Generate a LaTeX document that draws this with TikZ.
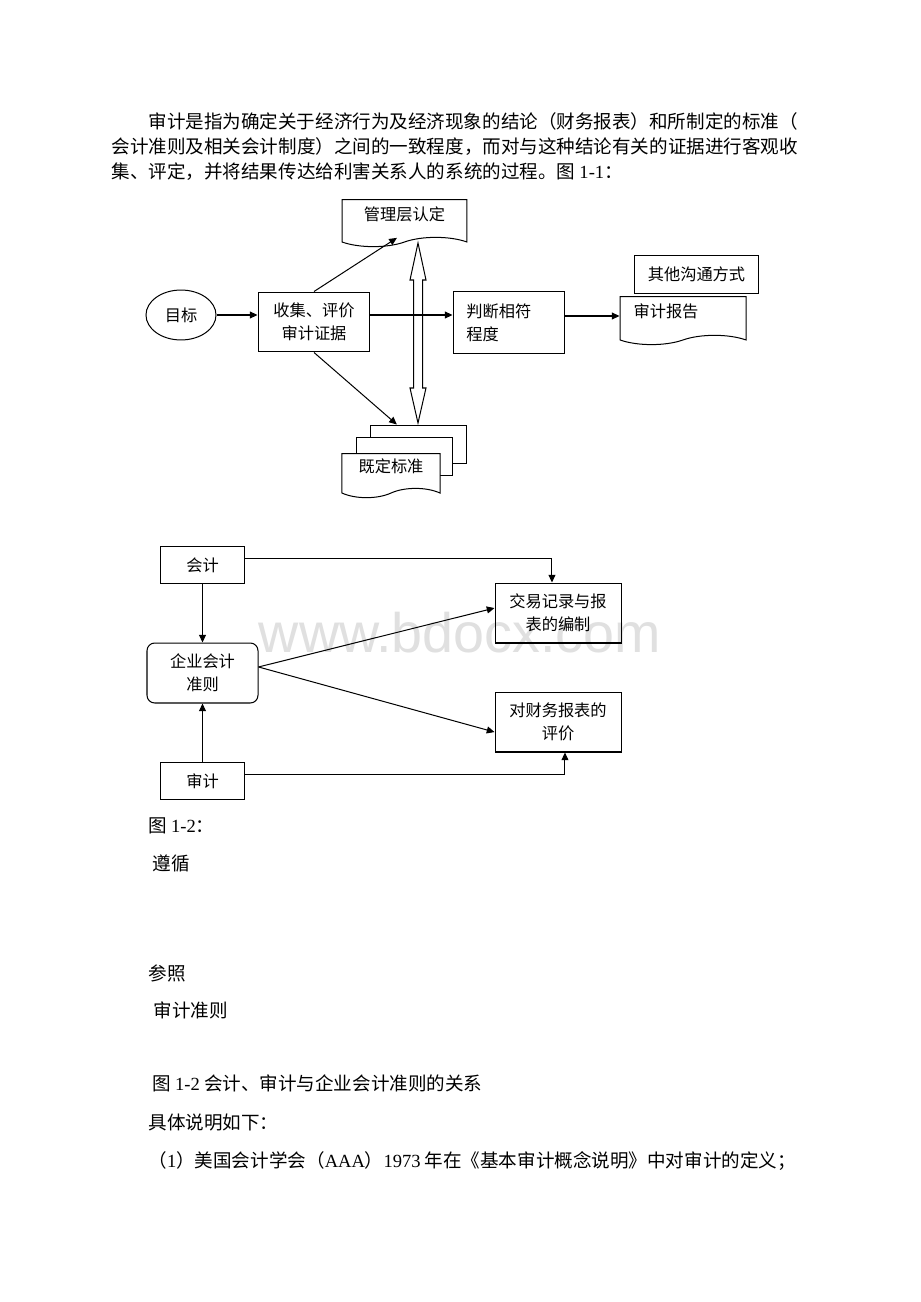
\documentclass[tikz,border=0pt]{standalone}
\usepackage{fontspec}
\setmainfont{Noto Sans CJK SC}
\newfontfamily\latinfont{Liberation Serif}
\newfontfamily\markfont{Liberation Sans}
\usepackage{tikz}
\usetikzlibrary{arrows.meta,shapes.geometric,shapes.symbols}

\begin{document}
\begin{tikzpicture}[x=0.6468pt,y=-0.6468pt,
    line width=0.65pt, >={Triangle[length=5pt,width=4.5pt]},
    para/.style={anchor=base west, inner sep=0pt, font=\fontsize{12}{14}\selectfont},
    box/.style={draw, align=center, inner sep=1pt, font=\fontsize{10.5}{15}\selectfont},
    docbox/.style={box, fill=white, tape, tape bend top=none, tape bend bottom=in and out,
        tape bend height=6pt, text height=8pt, text depth=6pt}]

            \fill[white] (0,0) rectangle (920,1302);
            \useasboundingbox (0,0) rectangle (920,1302);

            \node[para] (p1) at (148,129) {审计是指为确定关于经济行为及经济现象的结论（财务报表）和所制定的标准（};
            \node[para] (p2) at (111,154) {会计准则及相关会计制度）之间的一致程度，而对与这种结论有关的证据进行客观收};
            \node[para] (p3) at (111,179) {集、评定，并将结果传达给利害关系人的系统的过程。图 {\latinfont 1-1}：};

            \node[box, ellipse, minimum width=45.3pt, minimum height=32.3pt] (aim) at (181,315) {目标};
            \node[box, minimum width=72.4pt, minimum height=38.8pt] (collect) at (314,322) {收集、评价\\审计证据};
            \node[box, minimum width=72.4pt, minimum height=39.5pt, text width=55pt, align=left, inner xsep=8.7pt] (judge) at (509,322.5) {判断相符\\程度};
            \node[docbox, minimum width=80.8pt, minimum height=30.4pt] (mgmt) at (404.5,218.5) {管理层认定};
            \node[box, fill=white, minimum width=80.8pt, minimum height=25.2pt] (other) at (696.5,274.5) {其他沟通方式};
            \node[docbox, minimum width=81.5pt, minimum height=31pt, text width=64pt, align=left, inner xsep=8.75pt] (report) at (683,316) {审计报告};

            \node[box, fill=white, minimum width=62.7pt, minimum height=25.2pt] (stdback) at (418.5,444.5) {};
            \node[box, fill=white, minimum width=62.7pt, minimum height=25.2pt] (stdmid) at (404.5,456.5) {};
            \node[docbox, minimum width=63.4pt, minimum height=28.5pt] (std) at (391,471) {既定标准};

            \coordinate (dtop) at (418,243);
            \coordinate (dbot) at (418,423);
            \draw[fill=white] (dtop) -- ++(8,37) -- ++(-3.5,0) -- ++(0,108) -- ++(3.5,0) -- (dbot)
                -- ++(-8,-35) -- ++(3.5,0) -- ++(0,-108) -- ++(-3.5,0) -- cycle;

            \draw[->] (aim.east) -- (collect.west |- aim.east);
            \draw[->] (collect.east |- aim.east) -- (judge.west |- aim.east);
            \draw[->] (judge.east |- report.west) -- (report.west);
            \draw[->] (collect.north) -- ([xshift=-4.9pt]mgmt.south);
            \draw[->] (collect.south) -- ([xshift=-14pt]stdback.north);

            \node[font=\markfont\fontsize{36}{40}\selectfont, text=black!12, anchor=base, inner sep=0pt] (mark) at (460,652) {www.bdocx.com};

            \node[box, minimum width=53.7pt, minimum height=23.3pt] (acct) at (202.5,565) {会计};
            \node[box, rounded corners=5pt, minimum width=71.8pt, minimum height=38.8pt] (gaap) at (202.5,673) {企业会计\\准则};
            \node[box, minimum width=53.7pt, minimum height=23.3pt] (audit) at (202.5,781) {审计};
            \node[box, minimum width=81.5pt, minimum height=38.8pt] (record) at (558,613) {交易记录与报\\表的编制};
            \node[box, minimum width=81.5pt, minimum height=38.8pt] (evalu) at (558,722) {对财务报表的\\评价};

            \draw[->] ([yshift=3.9pt]acct.east) -| ([xshift=-3.9pt]record.north);
            \draw[->] ([yshift=3.9pt]audit.east) -| ([xshift=4.5pt]evalu.south);
            \draw[->] (acct.south) -- (gaap.north);
            \draw[->] (audit.north) -- (gaap.south);
            \draw[->] ([yshift=3.9pt]gaap.east) -- ([yshift=3.2pt]record.west);
            \draw[->] ([yshift=3.9pt]gaap.east) -- ([yshift=-6.5pt]evalu.west);

            \node[para] (f2) at (148,832) {图 {\latinfont 1-2}：};
            \node[para] (follow) at (152,870) {遵循};
            \node[para] (refer) at (148,980) {参照};
            \node[para] (stds) at (153,1017) {审计准则};
            \node[para] (cap) at (152,1090) {图 {\latinfont 1-2} 会计、审计与企业会计准则的关系};
            \node[para] (expl) at (148,1129) {具体说明如下：};
            \node[para] (item) at (148,1167) {（{\latinfont 1}）美国会计学会（{\latinfont AAA}）{\latinfont 1973} 年在《基本审计概念说明》中对审计的定义；};

            \end{tikzpicture}
\end{document}
